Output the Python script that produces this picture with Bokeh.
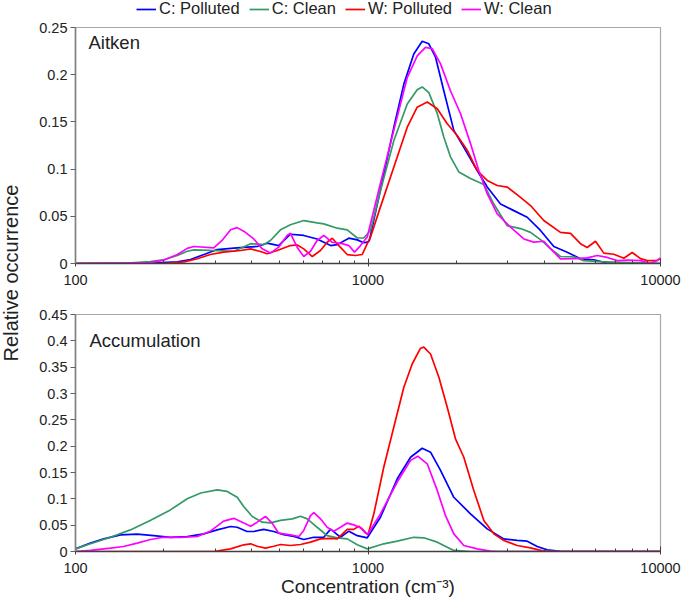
from bokeh.plotting import figure
from bokeh.models import (Legend, LegendItem, FixedTicker, CustomJSTickFormatter,
                          Label, Div, Range1d)
from bokeh.layouts import row, column
from bokeh.embed import file_html
from bokeh.resources import INLINE

FONT = "Liberation Sans"

# ---------------- data: Aitken (top panel) ----------------
aitken_cpol_x = [100, 180, 223, 247, 275, 305, 348, 386, 418, 452, 495, 543, 603, 670, 745, 785, 860, 919, 967, 994,
                 1010, 1103, 1225, 1326, 1434, 1532, 1614, 1702, 1816, 1965, 2126, 2362, 2556, 2838, 3152, 3502, 3888,
                 4318, 4797, 5327, 5916, 6574, 10000]
aitken_cpol_y = [0, 0.0005, 0.0018, 0.0042, 0.0095, 0.0148, 0.0162, 0.0173, 0.018, 0.0215, 0.019, 0.031, 0.0297, 0.026,
                 0.019, 0.020, 0.0268, 0.025, 0.022, 0.0226, 0.024, 0.078, 0.144, 0.190, 0.222, 0.2355, 0.2327, 0.2185,
                 0.183, 0.141, 0.123, 0.0985, 0.081, 0.063, 0.056, 0.049, 0.035, 0.018, 0.012, 0.005, 0.004, 0.0005, 0]

aitken_ccln_x = [100, 150, 180, 200, 223, 241, 254, 289, 348, 397, 440, 464, 502, 543, 603, 670, 706, 785, 849, 919,
                 967, 1020, 1103, 1225, 1362, 1473, 1532, 1614, 1725, 1816, 1914, 2044, 2241, 2489, 2692, 2992, 3322,
                 3594, 3940, 4207, 4551, 5054, 5467, 6236, 7693, 10000]
aitken_ccln_y = [0, 0.0005, 0.002, 0.004, 0.0085, 0.013, 0.0145, 0.0138, 0.013, 0.021, 0.020, 0.0244, 0.0357, 0.041,
                 0.0455, 0.043, 0.042, 0.0374, 0.0357, 0.027, 0.027, 0.035, 0.077, 0.130, 0.169, 0.184, 0.187, 0.181,
                 0.159, 0.134, 0.113, 0.097, 0.090, 0.0837, 0.063, 0.040, 0.037, 0.033, 0.024, 0.0156, 0.0074, 0.007,
                 0.003, 0.002, 0.001, 0]

aitken_wpol_x = [100, 200, 235, 261, 289, 321, 367, 397, 429, 452, 489, 543, 573, 603, 645, 688, 725, 755, 795, 849,
                 906, 955, 994, 1020, 1103, 1225, 1362, 1473, 1594, 1725, 1866, 2018, 2184, 2362, 2556, 2765, 2992,
                 3322, 3594, 3990, 4551, 4924, 5327, 5615, 5995, 6400, 6926, 7491, 8004, 8543, 9006, 9743, 10000]
aitken_wpol_y = [0, 0, 0.0018, 0.005, 0.0095, 0.012, 0.0138, 0.0155, 0.0127, 0.0103, 0.0138, 0.019, 0.0197, 0.0155,
                 0.0074, 0.0138, 0.0225, 0.0268, 0.019, 0.0095, 0.0085, 0.0095, 0.021, 0.028, 0.060, 0.102, 0.1444,
                 0.1656, 0.171, 0.164, 0.148, 0.1356, 0.12, 0.0985, 0.088, 0.0826, 0.081, 0.070, 0.0614, 0.0455, 0.033,
                 0.032, 0.021, 0.017, 0.0236, 0.011, 0.0098, 0.0056, 0.0116, 0.0052, 0.003, 0.003, 0.006]

aitken_wcln_x = [100, 150, 180, 200, 223, 241, 254, 297, 317, 339, 357, 381, 407, 435, 464, 495, 529, 543, 573, 603,
                 636, 670, 706, 754, 816, 860, 899, 943, 994, 1103, 1225, 1362, 1473, 1573, 1658, 1770, 1914, 2072,
                 2241, 2392, 2556, 2765, 3071, 3410, 3689, 3990, 4264, 4551, 5054, 5615, 6076, 6574, 7114, 7693, 8543,
                 9244, 10000]
aitken_wcln_y = [0, 0.0003, 0.001, 0.0035, 0.0095, 0.016, 0.018, 0.0166, 0.0244, 0.0357, 0.038, 0.033, 0.026, 0.0155,
                 0.011, 0.0173, 0.0297, 0.032, 0.017, 0.0074, 0.013, 0.0244, 0.0297, 0.0225, 0.021, 0.019, 0.012, 0.019,
                 0.028, 0.085, 0.141, 0.197, 0.220, 0.229, 0.2275, 0.2115, 0.183, 0.1586, 0.127, 0.0985, 0.074, 0.0526,
                 0.0385, 0.026, 0.0226, 0.0236, 0.0138, 0.005, 0.0052, 0.006, 0.0085, 0.0064, 0.003, 0.0035, 0.003,
                 0.0, 0.005]

# ---------------- data: Accumulation (bottom panel) ----------------
accum_cpol_x = [100, 112.5, 125, 142.5, 162.5, 185, 211, 241, 274.5, 305, 339, 357, 386, 407, 440, 476, 515, 558, 603,
                653, 706, 745, 785, 805, 860, 919, 994, 1103, 1259, 1398, 1532, 1636, 1770, 1965, 2241, 2556, 2913,
                3237, 3502, 3789, 4100, 4551, 5000, 10000]
accum_cpol_y = [0.005, 0.016, 0.024, 0.0316, 0.033, 0.030, 0.027, 0.0285, 0.0335, 0.041, 0.0475, 0.046, 0.038, 0.038,
                0.042, 0.038, 0.032, 0.0285, 0.0228, 0.027, 0.027, 0.0424, 0.032, 0.027, 0.0386, 0.030, 0.026, 0.065,
                0.138, 0.179, 0.196, 0.1886, 0.154, 0.103, 0.0715, 0.043, 0.024, 0.021, 0.0196, 0.0095, 0.003, 0.0005,
                0, 0]

accum_ccln_x = [100, 112.5, 131.7, 154, 180, 211, 241, 268, 305, 330, 357, 376, 402, 435, 464, 502, 551, 588, 620, 670,
                725, 785, 849, 919, 994, 1132, 1259, 1434, 1552, 1725, 1965, 2241, 10000]
accum_ccln_y = [0.005, 0.0146, 0.027, 0.041, 0.059, 0.079, 0.100, 0.111, 0.117, 0.114, 0.103, 0.0854, 0.0665, 0.0557,
                0.0544, 0.059, 0.062, 0.067, 0.062, 0.046, 0.030, 0.026, 0.024, 0.0127, 0.005, 0.0146, 0.0196, 0.027,
                0.026, 0.0177, 0.002, 0, 0]

accum_wpol_x = [100, 297, 339, 376, 397, 418, 446, 476, 502, 543, 588, 636, 688, 745, 785, 849, 894, 930, 955, 981,
                1000, 1047, 1132, 1225, 1326, 1416, 1512, 1552, 1636, 1747, 1866, 1991, 2126, 2300, 2489, 2692, 2913,
                3237, 3594, 3990, 4500, 10000]
accum_wpol_y = [0, 0, 0.005, 0.0127, 0.0146, 0.010, 0.0063, 0.010, 0.0133, 0.0114, 0.0133, 0.0177, 0.024, 0.025, 0.024,
                0.042, 0.042, 0.048, 0.043, 0.036, 0.032, 0.0715, 0.160, 0.236, 0.312, 0.356, 0.386, 0.388, 0.375,
                0.331, 0.274, 0.214, 0.179, 0.116, 0.059, 0.0335, 0.021, 0.0114, 0.007, 0.0006, 0, 0]

accum_wcln_x = [100, 112.5, 131.7, 146, 162.5, 180.5, 200, 229, 261, 289, 321, 348, 376, 397, 418, 446, 470, 495, 543,
                580, 603, 636, 653, 688, 725, 764, 805, 849, 894, 943, 981, 1000, 1103, 1259, 1398, 1480, 1594, 1725,
                1841, 1965, 2126, 2362, 2623, 2800, 10000]
accum_wcln_y = [0, 0.002, 0.0063, 0.0095, 0.016, 0.0228, 0.027, 0.027, 0.0285, 0.0386, 0.0576, 0.063, 0.054, 0.048,
                0.0557, 0.0665, 0.054, 0.0348, 0.0316, 0.0285, 0.040, 0.068, 0.074, 0.062, 0.046, 0.0386, 0.046, 0.054,
                0.0506, 0.045, 0.0348, 0.0335, 0.0715, 0.132, 0.173, 0.181, 0.1665, 0.116, 0.068, 0.0335, 0.0114, 0.005,
                0.0006, 0, 0]

series_names = ["C: Polluted", "C: Clean", "W: Polluted", "W: Clean"]
series_colors = ["#0000ff", "#339966", "#ff0000", "#ff00ff"]

x_major_ticks = [100, 1000, 10000]
x_minor_ticks = [200, 300, 400, 500, 600, 700, 800, 900, 2000, 3000, 4000, 5000, 6000, 7000, 8000, 9000]
aitken_yticks = [0, 0.05, 0.1, 0.15, 0.2, 0.25]
accum_yticks = [0, 0.05, 0.1, 0.15, 0.2, 0.25, 0.3, 0.35, 0.4, 0.45]

FIG_W = 659


def make_panel(height, ymax, yticks, b_top, b_bottom):
    p = figure(width=FIG_W, height=height, x_axis_type="log",
               x_range=Range1d(100, 10000), y_range=Range1d(0, ymax),
               output_backend="svg", toolbar_location=None,
               min_border_left=53, min_border_right=21,
               min_border_top=b_top, min_border_bottom=b_bottom)
    p.grid.visible = False
    p.outline_line_color = "#a8a8a8"
    p.outline_line_width = 1.2
    p.background_fill_color = "white"
    p.border_fill_color = "white"

    ya = p.yaxis[0]
    ya.ticker = FixedTicker(ticks=yticks)
    ya.formatter = CustomJSTickFormatter(
        code="var s = tick.toFixed(2); s = s.replace(/0+$/, ''); s = s.replace(/\\.$/, ''); return s;")
    ya.major_tick_out = 5
    ya.major_tick_in = 0
    ya.minor_tick_out = 0
    ya.minor_tick_in = 0
    ya.axis_line_color = "#808080"
    ya.axis_line_width = 1.6
    ya.major_tick_line_color = "#606060"
    ya.major_label_text_font = FONT
    ya.major_label_text_font_size = "14.5px"
    ya.major_label_text_color = "#222222"
    ya.major_label_standoff = 3

    xa = p.xaxis[0]
    xa.ticker = FixedTicker(ticks=x_major_ticks, minor_ticks=x_minor_ticks)
    xa.formatter = CustomJSTickFormatter(code="return String(Math.round(tick));")
    xa.major_tick_in = 5
    xa.major_tick_out = 3
    xa.minor_tick_in = 3
    xa.minor_tick_out = 0
    xa.axis_line_color = "#404040"
    xa.axis_line_width = 1.4
    xa.major_tick_line_color = "#404040"
    xa.minor_tick_line_color = "#404040"
    xa.major_label_text_font = FONT
    xa.major_label_text_font_size = "14.5px"
    xa.major_label_text_color = "#222222"
    xa.major_label_standoff = 8
    return p


# strip that carries only the legend (its frame is aligned with the panels below)
pl = figure(width=FIG_W, height=19, x_range=Range1d(0, 1), y_range=Range1d(0, 1),
            x_axis_location=None, y_axis_location=None, output_backend="svg",
            toolbar_location=None, min_border=0)
pl.grid.visible = False
pl.outline_line_color = None

p1 = make_panel(273, 0.25, aitken_yticks, 8, 29)
p2 = make_panel(310, 0.45, accum_yticks, 22, 51)

top_series = [(aitken_cpol_x, aitken_cpol_y), (aitken_ccln_x, aitken_ccln_y),
              (aitken_wpol_x, aitken_wpol_y), (aitken_wcln_x, aitken_wcln_y)]
bot_series = [(accum_cpol_x, accum_cpol_y), (accum_ccln_x, accum_ccln_y),
              (accum_wpol_x, accum_wpol_y), (accum_wcln_x, accum_wcln_y)]

items = []
for (xs, ys), name, col in zip(top_series, series_names, series_colors):
    p1.line(xs, ys, line_color=col, line_width=1.7)
    # same series in the legend strip: its data lies outside the strip's 0..1 ranges,
    # so only the legend key is seen
    key = pl.line(xs, ys, line_color=col, line_width=1.7)
    items.append(LegendItem(label=name, renderers=[key]))
for (xs, ys), col in zip(bot_series, series_colors):
    p2.line(xs, ys, line_color=col, line_width=1.7)

legend = Legend(items=items, orientation="horizontal", location=(61, 1),
                label_text_font=FONT, label_text_font_size="16.5px", label_text_color="#222222",
                glyph_width=20, glyph_height=16, label_height=16, label_standoff=3, spacing=9,
                padding=0, margin=0, border_line_color=None, background_fill_alpha=0)
pl.add_layout(legend, "center")

p1.add_layout(Label(x=110.8, y=0.2235, text="Aitken", text_font=FONT, text_font_size="18.5px",
                    text_color="#222222"))
p2.add_layout(Label(x=111.6, y=0.3816, text="Accumulation", text_font=FONT, text_font_size="18.5px",
                    text_color="#222222"))

p2.xaxis[0].axis_label = "Concentration (cm\u207b\u00b3)"
p2.xaxis[0].axis_label_text_font = FONT
p2.xaxis[0].axis_label_text_font_size = "19px"
p2.xaxis[0].axis_label_text_font_style = "normal"
p2.xaxis[0].axis_label_text_color = "#222222"
p2.xaxis[0].axis_label_standoff = 0

ylab = Div(text=(
    '<div style="position:absolute; left:11px; top:273px; line-height:20px; '
    'transform:translate(-50%,-50%) rotate(-90deg); white-space:nowrap; '
    "font-family:'Liberation Sans', Arial, sans-serif; font-size:20px; color:#222222;\">"
    'Relative occurrence</div>'), width=22, height=602, margin=0)

layout = row(ylab, column(pl, p1, p2))

open("out.html", "w").write(file_html(layout, INLINE))
